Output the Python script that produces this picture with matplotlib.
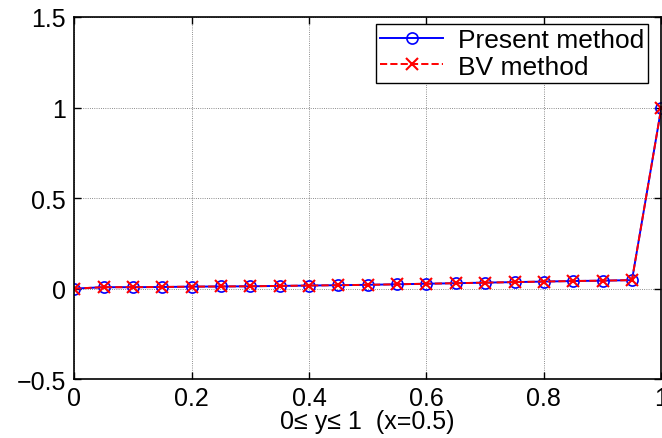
import matplotlib
matplotlib.use('Agg')
import matplotlib.pyplot as plt
import numpy as np

# profil de vitesse le long de la ligne x=0.5
y_pos = [0, 0.05, 0.1, 0.15, 0.2, 0.25, 0.3, 0.35, 0.4, 0.45, 0.5,
         0.55, 0.6, 0.65, 0.7, 0.75, 0.8, 0.85, 0.9, 0.95, 1.0]
present = [0, 0.008, 0.008, 0.009, 0.011, 0.012, 0.013, 0.015, 0.017, 0.019, 0.021,
           0.024, 0.027, 0.030, 0.033, 0.036, 0.039, 0.042, 0.044, 0.047, 1.0]
bv = [0, 0.008, 0.008, 0.009, 0.011, 0.012, 0.013, 0.015, 0.017, 0.019, 0.021,
      0.024, 0.027, 0.030, 0.033, 0.036, 0.039, 0.042, 0.044, 0.047, 1.0]
x_ticks = [0, 0.2, 0.4, 0.6, 0.8, 1]
y_ticks = [-0.5, 0, 0.5, 1, 1.5]
y_tick_labels = ['\u22120.5', '0', '0.5', '1', '1.5']

plt.rcParams['font.family'] = ['Liberation Sans', 'DejaVu Sans']

fig = plt.figure(figsize=(6.62, 4.39), dpi=100)
ax = fig.add_axes([0.112, 0.134, 0.887, 0.825])

ax.plot(y_pos, present, color='b', linestyle='-', marker='o', markersize=8,
        markerfacecolor='none', markeredgewidth=1.2, linewidth=1.4, label='Present method')
ax.plot(y_pos, bv, color='r', linestyle='--', marker='x', markersize=8,
        markeredgewidth=1.5, linewidth=1.4, label='BV method')

ax.set_xlim(0, 1)
ax.set_ylim(-0.5, 1.5)
ax.set_xticks(x_ticks)
ax.set_xticklabels([f'{t:g}' for t in x_ticks])
ax.set_yticks(y_ticks)
ax.set_yticklabels(y_tick_labels)
ax.tick_params(direction='in', top=True, right=True, labelsize=18, length=5, width=1)
ax.tick_params(axis='x', pad=5)
ax.tick_params(axis='y', pad=6)
ax.grid(True, color='black', linestyle=':', linewidth=0.6, alpha=0.6)
for s in ax.spines.values():
    s.set_linewidth(1.2)

ax.set_xlabel('0\u2264 y\u2264 1  (x=0.5)', fontsize=18, labelpad=-1)

leg = ax.legend(loc='upper right', bbox_to_anchor=(648 / 662, 1 - 25 / 439),
                bbox_transform=fig.transFigure, fontsize=19, frameon=True, fancybox=False,
                edgecolor='black', framealpha=1, borderpad=0.15, labelspacing=0.1,
                handlelength=2.4, handletextpad=0.55, borderaxespad=0)
leg.get_frame().set_linewidth(1.0)

fig.savefig('out.png', dpi=100)
